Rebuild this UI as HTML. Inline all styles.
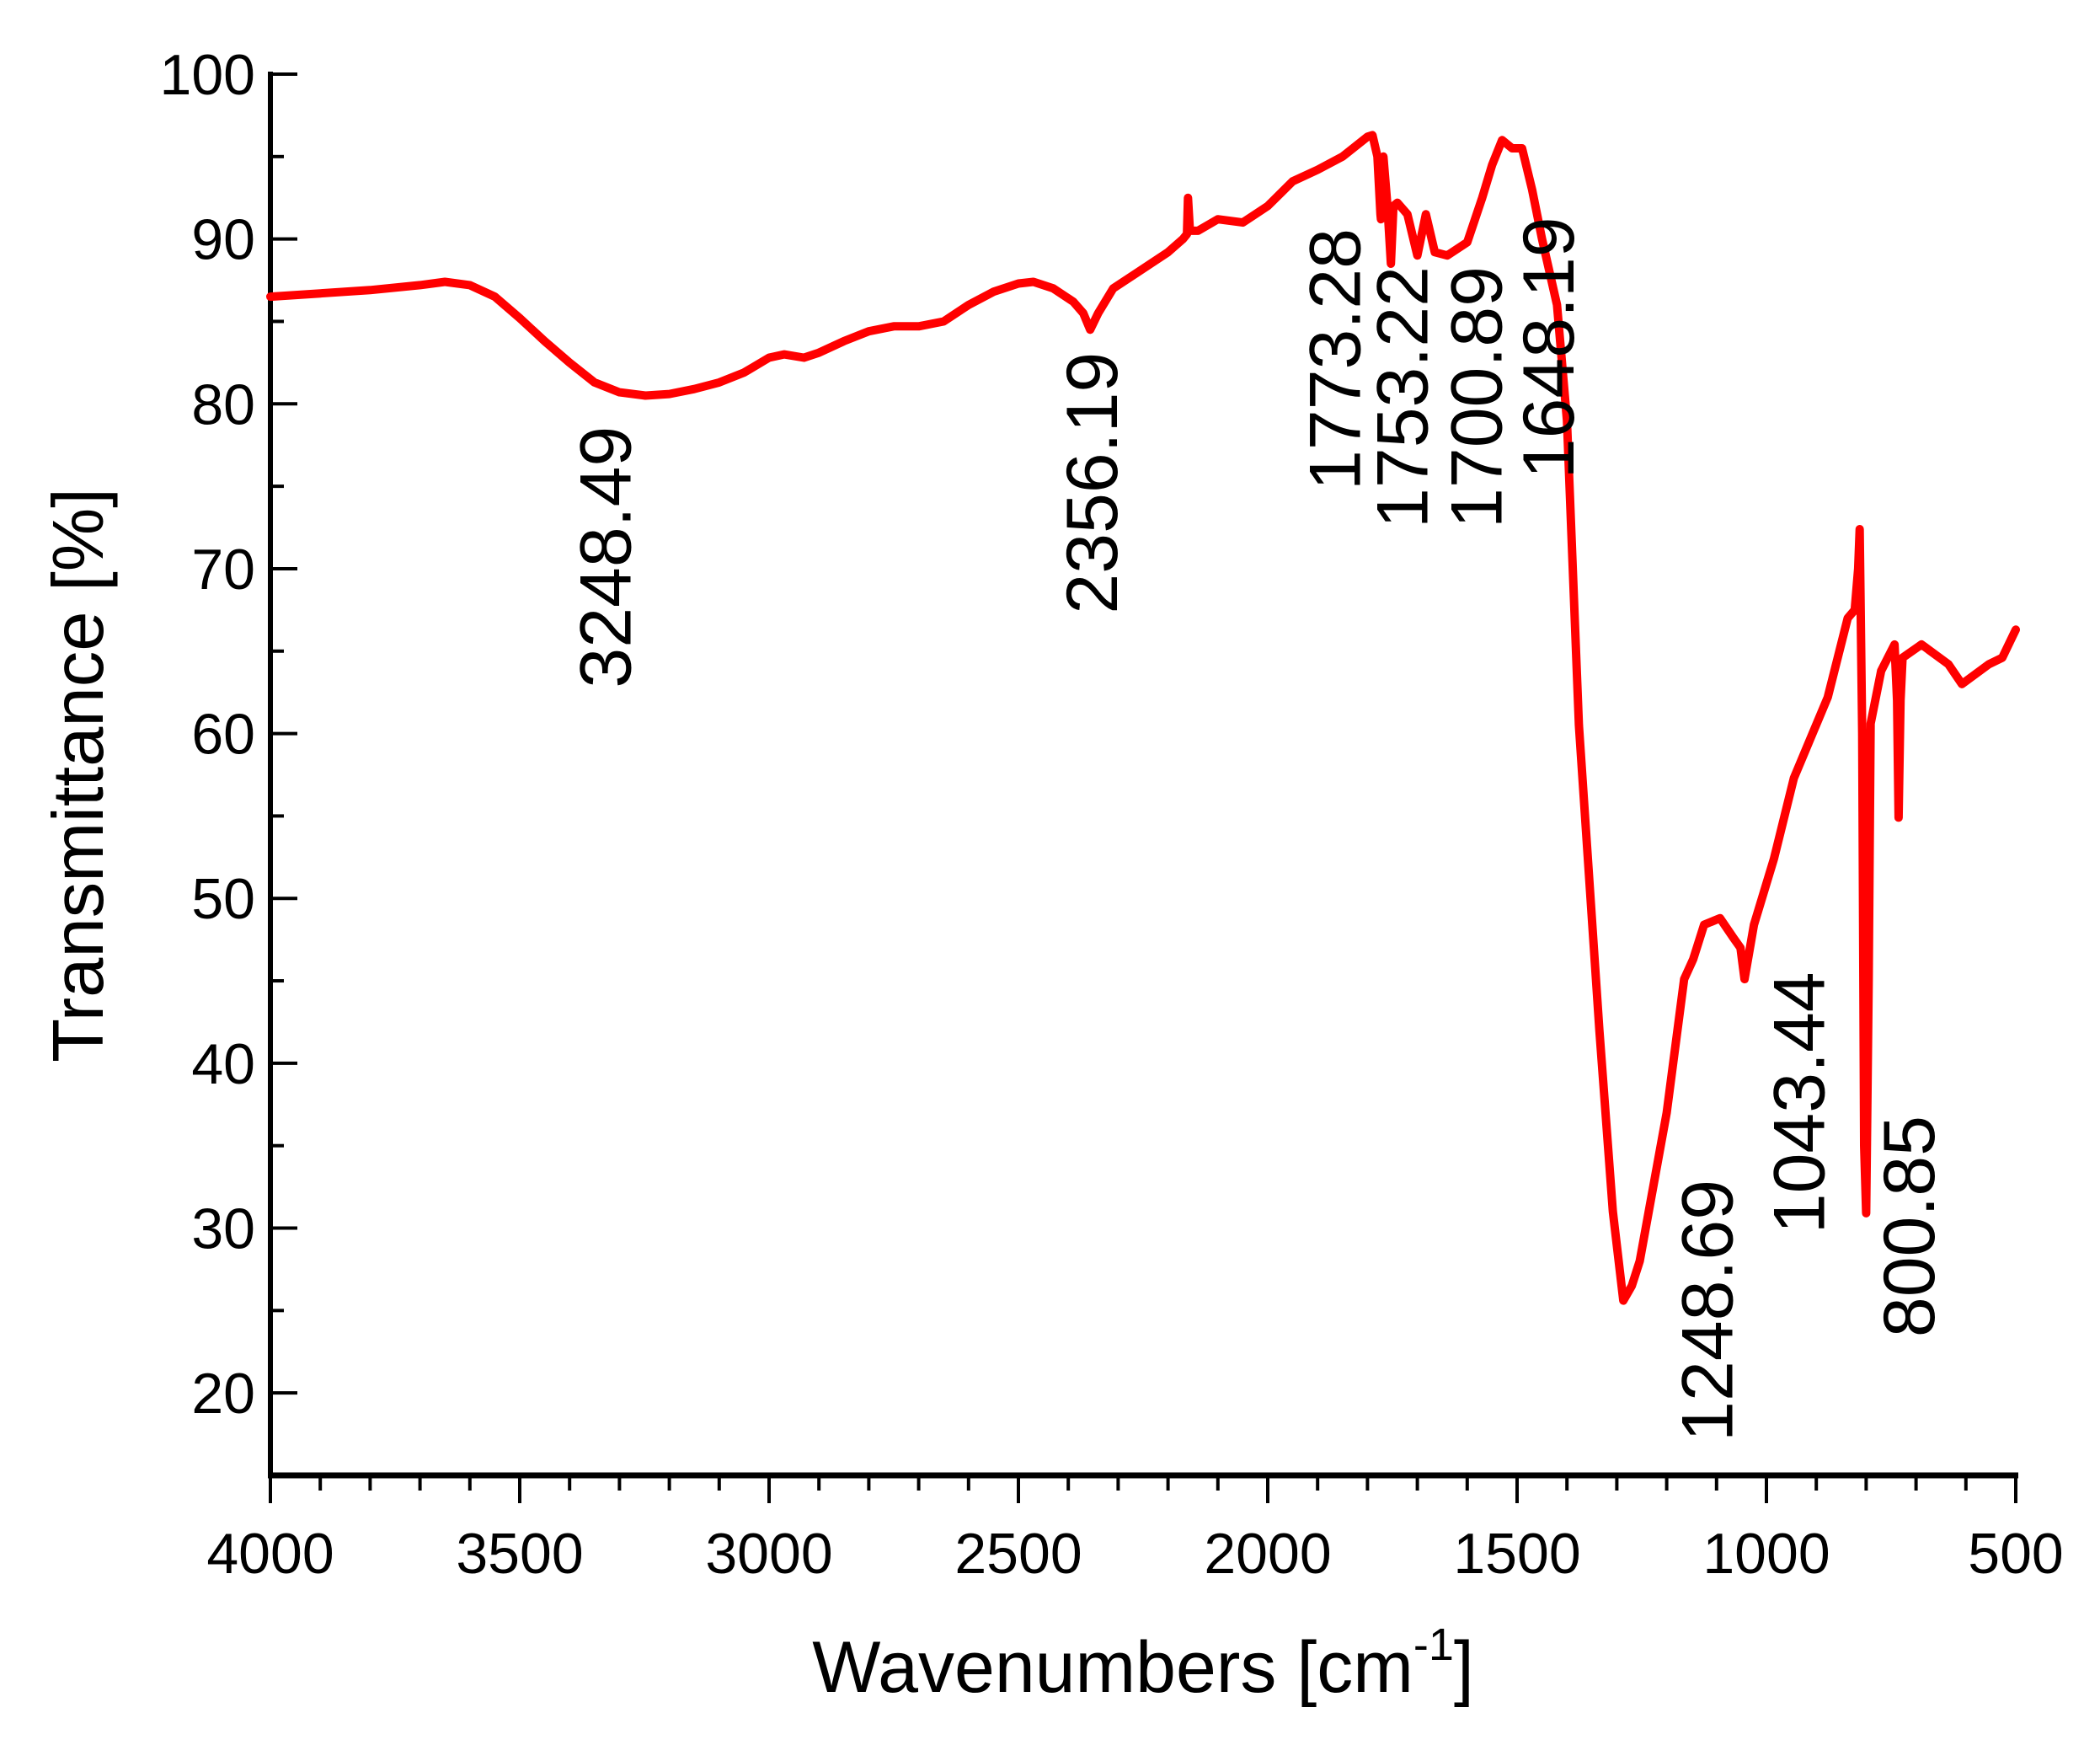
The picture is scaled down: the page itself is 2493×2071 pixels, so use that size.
<!DOCTYPE html>
<html><head><meta charset="utf-8"><style>
html,body{margin:0;padding:0;background:#fff;}
svg{display:block;font-family:"Liberation Sans",Arial,sans-serif;}
</style></head><body>
<svg id="chart" width="2493" height="2071" viewBox="0 0 2493 2071" xmlns="http://www.w3.org/2000/svg">
<g id="axes"></g>
<g id="series"></g>
<g id="labels"></g>
<text x="1357" y="2008" font-size="86" text-anchor="middle">Wavenumbers [cm<tspan font-size="54" dy="-38">-1</tspan><tspan dy="38">]</tspan></text>
<text transform="translate(122,920) rotate(-90)" font-size="85" text-anchor="middle">Transmittance [%]</text>
</svg>
<script>
const wavenumbers=[4000,3900,3800,3700,3650,3600,3550,3500,3450,3400,3350,3300,3248,3200,3150,3100,3050,3000,2970,2930,2900,2850,2800,2750,2700,2650,2600,2550,2500,2470,2430,2390,2370,2356,2340,2310,2260,2200,2170,2162,2160,2156,2140,2100,2050,2000,1950,1900,1850,1800,1790,1780,1774,1773,1768,1760,1753,1748,1740,1720,1700,1683,1665,1640,1600,1570,1550,1530,1510,1490,1470,1450,1420,1400,1376,1335,1308,1287,1270,1254,1200,1165,1147,1125,1093,1066,1052,1044,1025,985,945,877,837,823,816,813,808,804,800,795,791,770,743,738,735,731,727,689,635,608,554,527,500];
const transmittance=[86.5,86.7,86.9,87.2,87.4,87.2,86.5,85.2,83.8,82.5,81.3,80.7,80.5,80.6,80.9,81.3,81.9,82.8,83.0,82.8,83.1,83.8,84.4,84.7,84.7,85.0,86.0,86.8,87.3,87.4,87.0,86.2,85.5,84.5,85.5,87.0,88.0,89.2,90.0,90.3,92.5,90.5,90.5,91.2,91.0,92.0,93.5,94.2,95.0,96.2,96.3,95.0,91.5,91.2,95.0,92.0,88.5,92.0,92.2,91.5,89.0,91.5,89.2,89.0,89.8,92.5,94.5,96.0,95.5,95.5,93.0,90.0,86.0,79.0,60.5,42.0,31.0,25.6,26.5,28.0,37.0,45.1,46.3,48.4,48.8,47.6,47.0,45.1,48.4,52.4,57.3,62.2,67.0,67.5,70.0,72.4,60.0,35.0,30.9,45.0,60.6,63.8,65.4,62.0,54.9,62.0,64.6,65.4,64.2,63.0,64.2,64.6,66.3];
const xTicks=[4000,3500,3000,2500,2000,1500,1000,500];
const yTicks=[20,30,40,50,60,70,80,90,100];
const peakNames=["3248.49","2356.19","1773.28","1753.22","1700.89","1648.19","1248.69","1043.44","800.85"];
const labelX=[3330,2355,1867,1732,1584,1439,1121,937,716];
const labelY=[70.7,75.2,82.7,80.4,80.4,83.4,25.0,37.6,30.1];

const NS="http://www.w3.org/2000/svg";
const X0=321,X1=2393,Y0=88,Y1=1751;
function xs(w){return X0+(4000-w)/3500*(X1-X0);}
function ys(v){return Y0+(100-v)/85*(Y1-Y0);}
function mk(tag,attrs,parent){const e=document.createElementNS(NS,tag);for(const k in attrs)e.setAttribute(k,attrs[k]);parent.appendChild(e);return e;}
const axes=document.getElementById('axes');
let l=mk('line',{x1:X0,y1:Y0-3,x2:X0,y2:Y1+3,stroke:'#000','stroke-width':6},axes);


l=mk('line',{x1:X0-3,y1:Y1,x2:X1+3,y2:Y1,stroke:'#000','stroke-width':7},axes);


for(let w=4000;w>=500;w-=100){
  const major=(w%500===0);
  const t=mk('line',{x1:xs(w),y1:Y1,x2:xs(w),y2:Y1+(major?33:18),stroke:'#000','stroke-width':4},axes);
  
  
}
xTicks.forEach(w=>{
  const t=mk('text',{x:xs(w),y:1867,'font-size':68,'text-anchor':'middle'},axes);
  t.textContent=w;
  
  
});
for(let v=15;v<=100;v+=5){
  const major=(v%10===0);
  const t=mk('line',{x1:X0,y1:ys(v),x2:X0+(major?32:16),y2:ys(v),stroke:'#000','stroke-width':4},axes);
  
  
}
yTicks.forEach(v=>{
  const t=mk('text',{x:303,y:ys(v)+24,'font-size':68,'text-anchor':'end'},axes);
  t.textContent=v;
  
  
});
const series=document.getElementById('series');
let d='';
wavenumbers.forEach((w,i)=>{d+=(i?'L':'M')+xs(w).toFixed(1)+','+ys(transmittance[i]).toFixed(1);});
const p=mk('path',{d:d,fill:'none',stroke:'#ff0000','stroke-width':10,'stroke-linejoin':'round','stroke-linecap':'round'},series);


const labels=document.getElementById('labels');
peakNames.forEach((n,i)=>{
  const x=xs(labelX[i])+31, y=ys(labelY[i]);
  const t=mk('text',{transform:`translate(${x.toFixed(1)},${y.toFixed(1)}) rotate(-90)`,'font-size':86,'text-anchor':'middle'},labels);
  t.textContent=n;
  
  
});
</script>
</body></html>
